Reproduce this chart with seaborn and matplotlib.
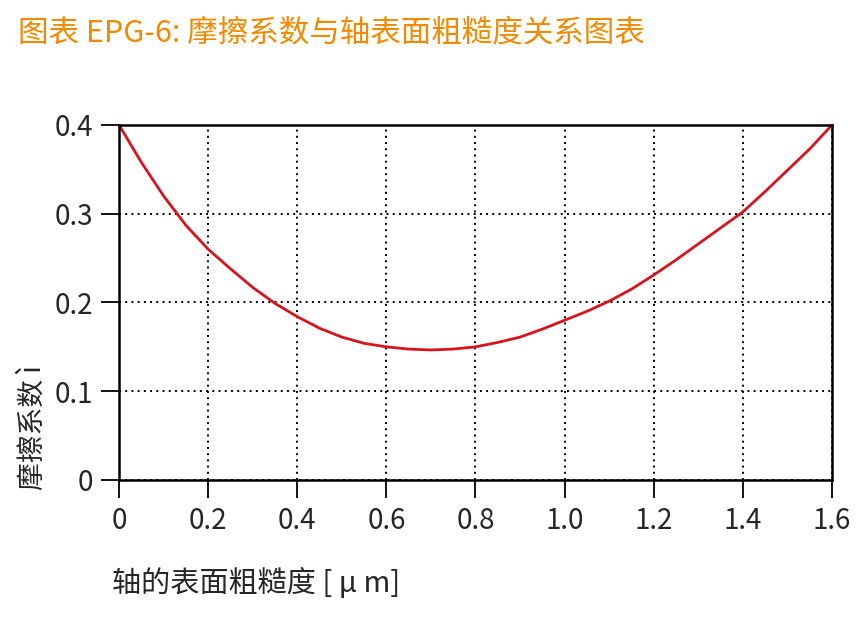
import numpy as np
import pandas as pd
import seaborn as sns
import matplotlib.pyplot as plt

# surface roughness of shaft [um] vs friction coefficient
roughness = [0.00, 0.05, 0.10, 0.15, 0.20, 0.25, 0.30, 0.35, 0.40, 0.45, 0.50,
             0.55, 0.60, 0.65, 0.70, 0.75, 0.80, 0.85, 0.90, 0.95, 1.00,
             1.05, 1.10, 1.15, 1.20, 1.25, 1.30, 1.35, 1.40, 1.45, 1.50,
             1.55, 1.60]
friction = [0.400, 0.358, 0.320, 0.287, 0.260, 0.238, 0.217, 0.199, 0.184, 0.171, 0.161,
            0.154, 0.150, 0.1475, 0.1465, 0.1475, 0.150, 0.155, 0.161, 0.170, 0.180,
            0.190, 0.2015, 0.215, 0.231, 0.248, 0.266, 0.284, 0.302, 0.325, 0.349,
            0.373, 0.400]
x_ticks = [0, 0.2, 0.4, 0.6, 0.8, 1.0, 1.2, 1.4, 1.6]
x_labels = ["0", "0.2", "0.4", "0.6", "0.8", "1.0", "1.2", "1.4", "1.6"]
y_ticks = [0, 0.1, 0.2, 0.3, 0.4]
y_labels = ["0", "0.1", "0.2", "0.3", "0.4"]

sns.set_style("ticks")
plt.rcParams["font.family"] = ["Noto Sans CJK SC", "DejaVu Sans"]

df = pd.DataFrame({"roughness": roughness, "friction": friction})

fig = plt.figure(figsize=(8.6, 6.29), dpi=100)
ax = fig.add_axes([0.1384, 0.2369, 0.829, 0.5644])
sns.lineplot(data=df, x="roughness", y="friction", color="#d7141e", linewidth=2.0, ax=ax)

ax.set_xlim(0, 1.6)
ax.set_ylim(0, 0.4)
ax.set_xticks(x_ticks)
ax.set_xticklabels(x_labels, fontsize=20)
ax.set_yticks(y_ticks)
ax.set_yticklabels(y_labels, fontsize=20)
ax.grid(True, color="black", linestyle=(0, (1, 2.2)), linewidth=1.4)
ax.tick_params(direction="out", length=13, width=1.3, color="black", pad=6)
for s in ax.spines.values():
    s.set_visible(True)
    s.set_linewidth(1.8)
    s.set_color("black")
ax.set_xlabel("")
ax.set_ylabel("")

fig.text(0.021, 0.947, "图表 EPG-6: 摩擦系数与轴表面粗糙度关系图表", color="#f08a00",
         fontsize=22, va="center", ha="left")
fig.text(0.13, 0.073, "轴的表面粗糙度 [ μ m]", fontsize=21, va="center", ha="left")
fig.text(0.038, 0.321, "摩擦系数 ì", fontsize=20, rotation=90, va="center", ha="center")

plt.savefig("out.png", dpi=100)
